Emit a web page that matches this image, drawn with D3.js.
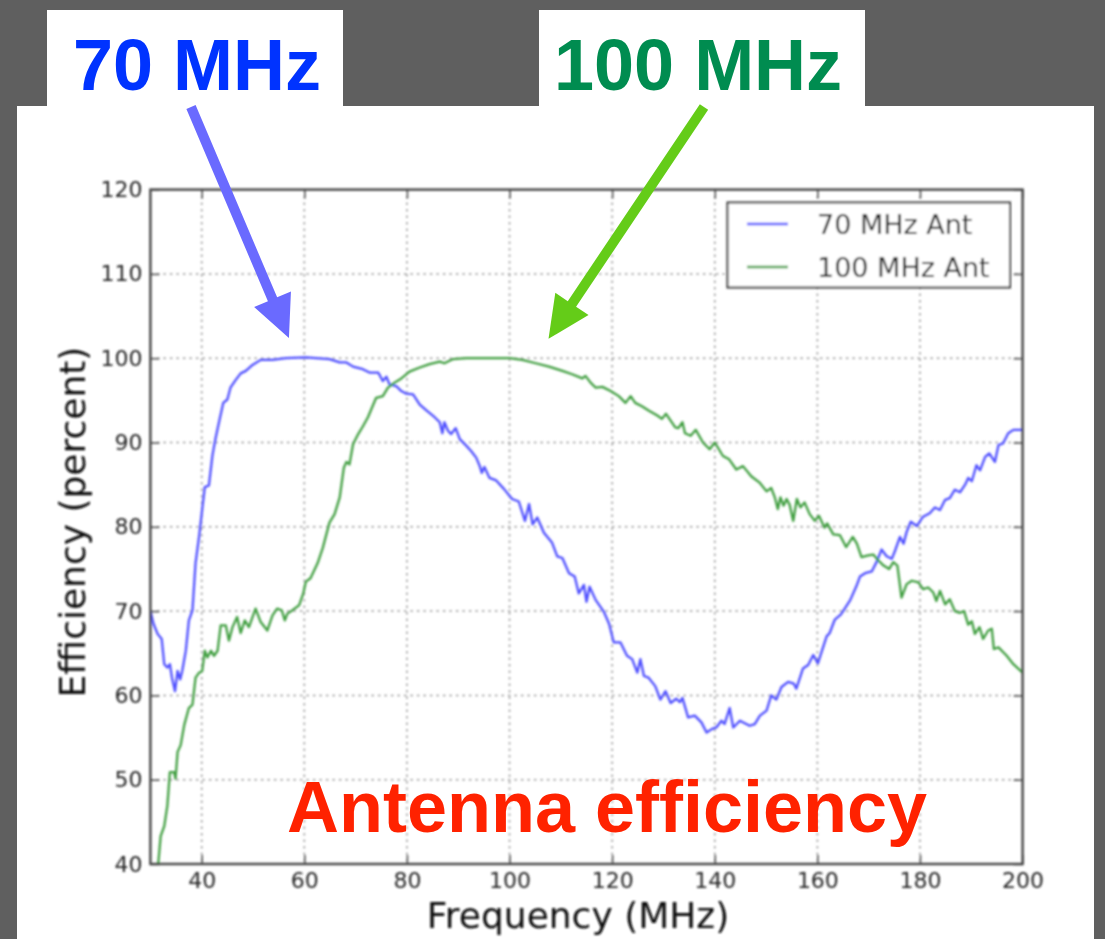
<!DOCTYPE html>
<html>
<head>
<meta charset="utf-8">
<script src="https://cdn.jsdelivr.net/npm/d3@7"></script>
<style>
  html, body { margin: 0; padding: 0; background: #5f5f5f; }
  svg { display: block; }
</style>
</head>
<body>
<svg id="chart" width="1105" height="939"></svg>
<script>
// Measured efficiency of the two antennas (frequency in MHz, efficiency in %)
const ant70Freq = [30,30.6,31.4,32.2,32.7,33.3,33.8,34.2,34.8,35.3,35.8,36.2,36.9,37.5,38.2,38.8,39.5,40.1,40.6,41.4,
  42.1,42.7,43.4,44.2,45.0,45.6,46.6,47.6,48.6,49.9,51.5,53.8,56.4,60.3,64.9,66.9,68.2,69.5,71.4,72.7,
  74.4,75.3,76.0,76.6,77.9,78.9,79.9,81.2,82.5,83.8,85.4,86.4,86.9,87.3,88.0,88.6,89.5,90.3,91.6,92.5,
  93.5,94.2,94.6,95.1,96.1,97.4,98.9,100.5,101.8,103.0,103.8,104.5,105.4,106.7,108.3,109.3,110.3,111.6,112.7,113.5,
  114.5,115.0,115.6,116.8,118.4,119.4,120.3,121.6,122.9,123.9,124.9,125.5,126.2,127.1,128.4,129.4,130.4,131.4,132.5,133.2,
  133.7,134.8,136.1,137.4,138.4,139.4,140.3,141.3,141.9,142.9,143.6,144.9,146.8,147.8,148.8,150.1,151.0,152.0,153.0,154.3,
  155.4,155.9,157.2,158.2,159.2,160.1,161.8,162.4,163.4,164.6,166.4,167.7,168.3,169.3,170.6,171.6,172.5,173.5,174.5,175.1,
  176.1,176.8,177.4,178.2,179.4,180.6,181.9,182.9,183.9,184.9,185.8,186.8,187.8,188.8,189.4,190.1,191.0,191.7,192.7,193.5,
  194.6,195.3,196.2,197.2,198.2,200];
const ant70Eff = [70.0,68.5,67.3,66.7,63.7,63.3,63.7,62.1,60.5,62.9,61.9,62.9,65.3,68.9,70.1,75.7,78.9,82.1,84.7,84.9,
  88.5,90.5,92.5,94.7,95.1,96.5,97.4,98.2,98.5,99.2,99.8,99.8,100.0,100.1,99.9,99.5,99.5,99.0,98.7,98.3,
  98.3,97.3,97.8,96.9,96.7,96.1,95.8,95.7,94.5,93.8,93.0,92.4,91.1,92.4,91.4,91.0,91.7,90.4,89.6,89.0,
  88.2,87.2,86.4,87.1,85.8,85.5,84.5,83.3,83.0,80.7,82.7,80.3,81.1,79.3,78.1,76.5,76.3,74.5,74.1,72.1,
  73.1,71.1,72.9,71.3,69.9,68.5,66.3,66.3,64.7,64.3,62.7,64.3,62.3,62.1,61.1,59.5,60.5,59.1,59.6,59.2,
  59.7,57.4,57.6,56.8,55.6,56.0,56.2,57.0,56.6,58.5,56.2,57.0,56.4,56.6,57.6,58.2,60.0,59.5,61.0,61.6,
  61.4,60.8,63.2,63.6,64.8,63.8,67.0,67.4,69.0,69.6,71.3,73.1,74.1,74.5,74.7,75.9,77.3,76.5,76.2,77.1,
  78.8,78.0,79.4,80.6,80.1,81.2,81.6,82.3,82.0,83.2,83.4,84.4,84.1,85.0,85.8,85.4,87.3,86.7,88.3,88.7,
  87.7,89.7,89.9,91.1,91.5,91.5];

const ant100Freq = [30,31.4,32.0,32.7,33.3,33.8,34.6,34.9,35.3,35.9,36.6,37.5,38.2,38.8,39.5,40.1,40.6,41.1,41.8,42.4,
  43.1,43.7,44.7,45.3,46.0,46.9,47.6,48.4,49.2,50.5,51.5,52.8,53.8,54.7,55.6,56.2,56.7,57.7,59.0,59.8,
  60.3,61.2,62.6,63.6,64.9,65.9,66.9,67.7,68.2,68.8,69.5,70.5,71.4,72.4,73.1,74.0,75.3,76.3,77.6,78.9,
  80.5,82.5,84.4,86.4,87.3,89.0,91.6,94.8,100.0,102.5,105.1,107.7,110.3,112.2,114.2,114.8,115.8,116.8,118.1,119.7,
  121.3,122.6,123.6,124.5,125.8,127.1,128.8,129.7,130.5,132.3,132.9,133.7,134.2,135.3,136.3,137.7,139.0,140.0,141.6,142.8,
  144.2,145.5,147.1,148.8,150.1,151.0,151.7,152.3,152.8,153.4,154.0,154.6,155.3,156.0,156.7,157.5,158.5,159.5,160.3,161.4,
  161.9,163.1,164.4,165.6,166.9,167.7,168.6,169.9,170.9,171.9,172.9,174.0,174.8,175.6,176.4,177.4,178.4,179.7,180.6,181.6,
  182.6,183.2,183.9,184.9,185.8,186.8,187.8,188.6,189.4,190.1,190.7,191.6,192.3,193.3,194.0,194.4,195.3,196.9,198.2,200];
const ant100Eff = [35.5,39.1,43.3,44.5,46.9,50.9,50.9,50.1,53.3,54.1,56.5,58.5,58.9,62.1,62.7,62.9,65.3,64.5,65.3,64.7,
  65.3,68.3,68.3,66.5,68.1,69.3,67.4,68.9,68.1,70.3,68.7,67.7,69.5,70.3,70.1,68.9,69.7,70.1,70.7,72.1,
  73.5,73.9,75.7,77.5,80.5,81.5,83.5,87.0,87.7,87.4,89.8,91.0,91.9,93.0,94.0,95.3,95.5,96.5,97.1,97.6,
  98.4,98.9,99.3,99.6,99.4,99.9,100.0,100.0,100.0,99.8,99.4,99.0,98.5,98.1,97.6,97.9,97.1,96.5,96.6,96.1,
  95.5,94.7,95.5,94.7,94.3,93.8,93.2,92.8,93.4,91.8,91.7,92.4,91.1,90.8,91.5,90.0,89.2,90.0,88.4,88.0,
  86.8,87.2,86.0,85.2,84.2,84.6,83.5,82.1,83.5,82.5,83.3,82.6,80.7,83.3,82.3,82.9,81.5,80.7,81.3,79.9,
  80.4,79.1,79.0,77.6,78.8,78.0,76.4,76.6,76.7,76.0,75.4,75.0,75.8,75.4,71.6,73.2,73.6,73.4,72.6,72.8,
  72.2,71.2,72.4,70.8,71.4,70.0,69.8,70.0,68.4,68.8,67.3,68.1,66.7,67.7,67.9,65.5,65.7,64.7,63.7,62.7];

const xTicks = [40, 60, 80, 100, 120, 140, 160, 180, 200];
const yTicks = [40, 50, 60, 70, 80, 90, 100, 110, 120];
const seriesNames = ["70 MHz Ant", "100 MHz Ant"];
const seriesColors = ["#4d4dff", "#3f9e3f"];
const bandLabels = ["70 MHz", "100 MHz"];
const titleText = "Antenna efficiency";

const svg = d3.select("#chart");

// Slide background and the white panel carrying the plot
svg.append("rect").attr("x", 0).attr("y", 0).attr("width", 1105).attr("height", 939).attr("fill", "#5f5f5f");
svg.append("rect").attr("x", 17).attr("y", 106).attr("width", 1077).attr("height", 840).attr("fill", "#ffffff");

const defs = svg.append("defs");
defs.append("filter").attr("id", "soft").attr("x", "-5%").attr("y", "-5%").attr("width", "110%").attr("height", "110%")
  .append("feGaussianBlur").attr("stdDeviation", 0.8);

const plotLeft = 150.4, plotRight = 1022.6, plotTop = 189.6, plotBottom = 864;
const x = d3.scaleLinear().domain([30, 200]).range([plotLeft, plotRight]);
const y = d3.scaleLinear().domain([40, 120]).range([plotBottom, plotTop]);

defs.append("clipPath").attr("id", "plotClip")
  .append("rect").attr("x", plotLeft).attr("y", plotTop)
  .attr("width", plotRight - plotLeft).attr("height", plotBottom - plotTop);

const plot = svg.append("g").attr("filter", "url(#soft)");

// Dotted grid
plot.append("g").selectAll("line").data(xTicks.filter(d => d < 200)).join("line")
  .attr("x1", d => x(d)).attr("x2", d => x(d)).attr("y1", plotTop).attr("y2", plotBottom)
  .attr("stroke", "#9a9a9a").attr("stroke-width", 1.5).attr("stroke-dasharray", "2.5,4");
plot.append("g").selectAll("line").data(yTicks.filter(d => d > 40 && d < 120)).join("line")
  .attr("x1", plotLeft).attr("x2", plotRight).attr("y1", d => y(d)).attr("y2", d => y(d))
  .attr("stroke", "#9a9a9a").attr("stroke-width", 1.5).attr("stroke-dasharray", "2.5,4");

// Axes with inward ticks on all four sides
const tickStyle = g => {
  g.select(".domain").remove();
  g.selectAll(".tick line").attr("stroke", "#555").attr("stroke-width", 1.6);
  g.selectAll(".tick text").attr("fill", "#262626").attr("font-family", "DejaVu Sans, sans-serif").attr("font-size", 22);
};
plot.append("g").attr("transform", `translate(0,${plotBottom})`)
  .call(d3.axisBottom(x).tickValues(xTicks).tickSizeInner(-9).tickPadding(8).tickSizeOuter(0))
  .call(tickStyle);
plot.append("g").attr("transform", `translate(${plotLeft},0)`)
  .call(d3.axisLeft(y).tickValues(yTicks).tickSizeInner(-9).tickPadding(8).tickSizeOuter(0))
  .call(tickStyle);
plot.append("g").attr("transform", `translate(0,${plotTop})`)
  .call(d3.axisTop(x).tickValues(xTicks).tickSizeInner(-9).tickFormat("").tickSizeOuter(0))
  .call(tickStyle);
plot.append("g").attr("transform", `translate(${plotRight},0)`)
  .call(d3.axisRight(y).tickValues(yTicks).tickSizeInner(-9).tickFormat("").tickSizeOuter(0))
  .call(tickStyle);

// Efficiency curves
const series = [
  { freq: ant70Freq, eff: ant70Eff },
  { freq: ant100Freq, eff: ant100Eff }
];
const line = d3.line().x(d => x(d[0])).y(d => y(d[1]));
const curves = plot.append("g").attr("clip-path", "url(#plotClip)");
series.forEach((s, i) => {
  curves.append("path")
    .datum(d3.zip(s.freq, s.eff))
    .attr("d", line)
    .attr("fill", "none")
    .attr("stroke", seriesColors[i])
    .attr("stroke-width", 2.3)
    .attr("stroke-linejoin", "round");
});

// Frame
plot.append("rect").attr("x", plotLeft).attr("y", plotTop)
  .attr("width", plotRight - plotLeft).attr("height", plotBottom - plotTop)
  .attr("fill", "none").attr("stroke", "#454545").attr("stroke-width", 2.4);

// Legend
const legend = plot.append("g");
legend.append("rect").attr("x", 727.5).attr("y", 202.5).attr("width", 282.5).attr("height", 85)
  .attr("fill", "#fff").attr("stroke", "#333").attr("stroke-width", 2);
seriesNames.forEach((name, i) => {
  const ly = 224 + i * 43;
  legend.append("line").attr("x1", 747).attr("x2", 788).attr("y1", ly).attr("y2", ly)
    .attr("stroke", seriesColors[i]).attr("stroke-width", 2.4);
  legend.append("text").attr("x", 817).attr("y", ly + 10).text(name)
    .attr("font-family", "DejaVu Sans, sans-serif").attr("font-size", 27).attr("fill", "#1a1a1a");
});

// Axis titles
plot.append("text").attr("x", 578).attr("y", 928).attr("text-anchor", "middle")
  .attr("font-family", "DejaVu Sans, sans-serif").attr("font-size", 36).attr("fill", "#111")
  .text("Frequency (MHz)");
plot.append("text").attr("transform", "translate(85,522) rotate(-90)").attr("text-anchor", "middle")
  .attr("font-family", "DejaVu Sans, sans-serif").attr("font-size", 36).attr("fill", "#111")
  .text("Efficiency (percent)");

// Overlay title
svg.append("text").attr("x", 287).attr("y", 832)
  .attr("font-family", "Liberation Sans, Arial, Helvetica, sans-serif").attr("font-weight", "bold")
  .attr("font-size", 72).attr("fill", "#ff2200").text(titleText);

// Band label boxes with arrows pointing at each antenna's peak region
const bandBoxes = [
  { x: 47, w: 296, tx: 73, color: "#0033ff", from: [191, 107], tip: [57, 102.4] },
  { x: 539, w: 326, tx: 554, color: "#008c50", from: [704, 107], tip: [107.6, 102.3] }
];
const arrowColors = ["#6a6aff", "#64cc18"];
bandBoxes.forEach((b, i) => {
  svg.append("rect").attr("x", b.x).attr("y", 10).attr("width", b.w).attr("height", 98).attr("fill", "#fff");
  svg.append("text").attr("x", b.tx).attr("y", 90)
    .attr("font-family", "Liberation Sans, Arial, Helvetica, sans-serif").attr("font-weight", "bold")
    .attr("font-size", 72).attr("fill", b.color).text(bandLabels[i]);

  const tip = [x(b.tip[0]), y(b.tip[1])];
  const dx = tip[0] - b.from[0], dy = tip[1] - b.from[1];
  const len = Math.hypot(dx, dy), ux = dx / len, uy = dy / len;
  const headLen = 42, headHalf = 20, shaftHalf = 5;
  const bx = tip[0] - ux * headLen, by = tip[1] - uy * headLen;
  const px = -uy, py = ux;
  const pts = [
    [b.from[0] + px * shaftHalf, b.from[1] + py * shaftHalf],
    [bx + px * shaftHalf, by + py * shaftHalf],
    [bx + px * headHalf, by + py * headHalf],
    tip,
    [bx - px * headHalf, by - py * headHalf],
    [bx - px * shaftHalf, by - py * shaftHalf],
    [b.from[0] - px * shaftHalf, b.from[1] - py * shaftHalf]
  ];
  svg.append("path").attr("d", "M" + pts.map(p => p.join(",")).join("L") + "Z").attr("fill", arrowColors[i]);
});
</script>
</body>
</html>
